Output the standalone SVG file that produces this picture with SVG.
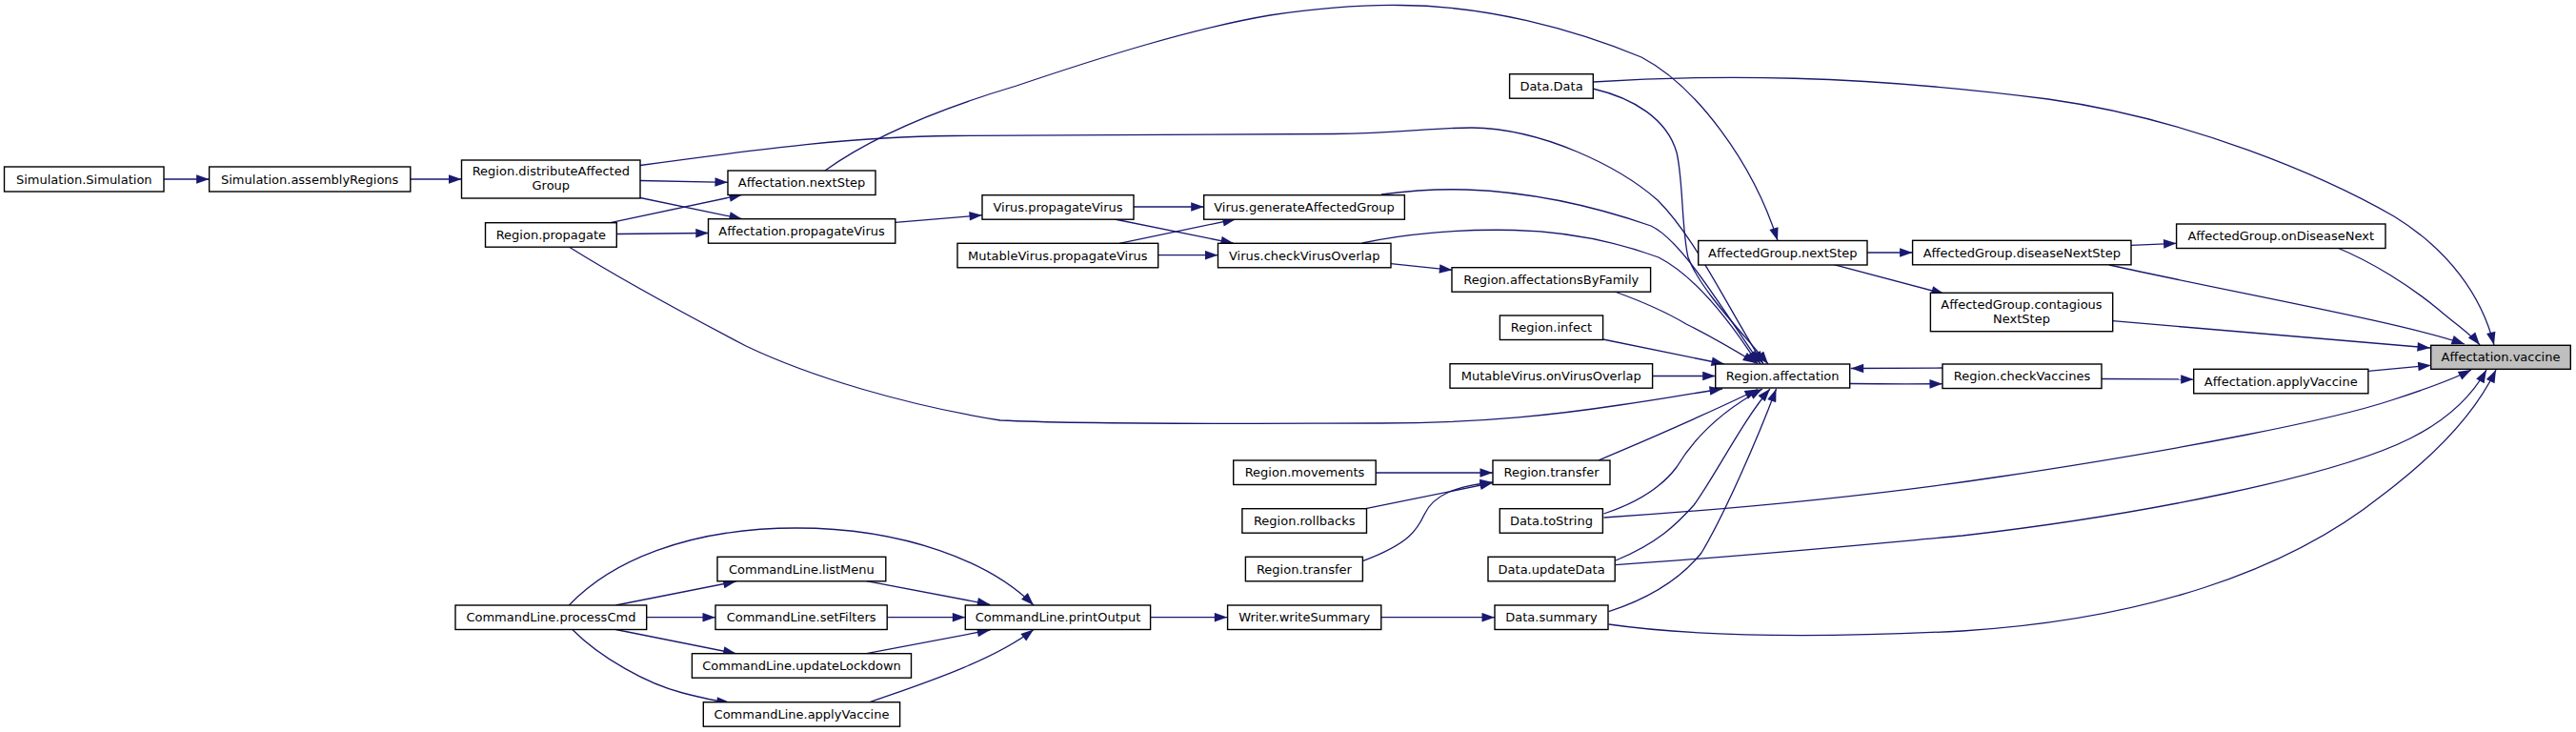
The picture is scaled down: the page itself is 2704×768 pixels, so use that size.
<svg xmlns="http://www.w3.org/2000/svg" width="2704" height="768" viewBox="0 0 2704 768">
<style>
.node rect{fill:#ffffff;stroke:#000000;stroke-width:1.4}
.node rect.focus{fill:#bfbfbf}
.node text{font-family:'DejaVu Sans','Liberation Sans',sans-serif;font-size:13px;text-anchor:middle;fill:#000000}
.edge{fill:none;stroke:#191970;stroke-width:1.3;marker-end:url(#arr)}
</style>
<defs>
<marker id="arr" markerUnits="userSpaceOnUse" viewBox="-14 -5 14 10" refX="0" refY="0" markerWidth="14" markerHeight="10" orient="auto">
<polygon points="-13.5,-4.8 0,0 -13.5,4.8" fill="#191970"/>
</marker>
</defs>
<rect width="2704" height="768" fill="#ffffff"/>
<g id="connectors">
<path class="edge" d="M172,188 L219.6,188"/>
<path class="edge" d="M430.8,188 L484.5,188"/>
<path class="edge" d="M672,189.5 L764,191.3"/>
<path class="edge" d="M672,207.5 L779,229.7"/>
<path class="edge" d="M672,173.5 C800,156 900,143 1000,142.5 C1150,141.5 1300,141 1400,140.5 C1470,140 1500,134 1545,134 C1620,135 1700,175 1740,210 C1780,250 1812,320 1851,382"/>
<path class="edge" d="M640.7,233.7 L779,204.3"/>
<path class="edge" d="M647.4,245.5 L743.8,244.5"/>
<path class="edge" d="M598,259.5 C650,292 720,330 783,363 C850,395 950,425 1050,441 C1150,446 1350,444 1450,444 C1560,444 1640,434 1700,425 C1750,418 1780,412 1808,408"/>
<path class="edge" d="M866,179 C920,140 1000,110 1067,90 C1150,62 1250,30 1333,16 C1400,6 1440,5 1470,5.5 C1560,6 1650,30 1723,60 C1780,90 1840,170 1866,252.5"/>
<path class="edge" d="M939.8,233.3 L1031,225.7"/>
<path class="edge" d="M1190,217 L1263.7,217"/>
<path class="edge" d="M1170,230 L1295,255.3"/>
<path class="edge" d="M1175,255.3 L1297,230"/>
<path class="edge" d="M1215.7,267.7 L1278.5,267.7"/>
<path class="edge" d="M1450,204 C1480,200 1510,198 1540,199 C1620,202 1690,222 1733,237 C1765,252 1805,320 1848,382"/>
<path class="edge" d="M1430,255 C1470,246 1530,240 1590,241.5 C1650,243 1700,255 1741,270 C1780,290 1818,340 1845,382"/>
<path class="edge" d="M1460,276.7 L1524.4,283.3"/>
<path class="edge" d="M1695,306 C1720,315 1745,325 1770,340 C1800,355 1825,370 1843,381"/>
<path class="edge" d="M1682.6,356 L1810,382"/>
<path class="edge" d="M1734.6,394.5 L1800.7,394.5"/>
<path class="edge" d="M1672,93 C1715,103 1750,125 1760,160 C1767,190 1765,240 1772,270 C1785,305 1830,350 1856,382"/>
<path class="edge" d="M1672,86 C1800,78 1950,78 2150,104 C2300,125 2440,185 2513,227 C2570,262 2605,310 2618,362"/>
<path class="edge" d="M1960,265 L2007.6,265"/>
<path class="edge" d="M1925,277.7 L2041,308.3"/>
<path class="edge" d="M2237,257.3 L2284.6,255.3"/>
<path class="edge" d="M2214,278 C2350,308 2520,338 2587,361"/>
<path class="edge" d="M2453.6,260 C2490,275 2530,300 2560,325 C2580,342 2595,352 2603,362"/>
<path class="edge" d="M2217.7,336.7 L2551,365"/>
<path class="edge" d="M1941.7,402.5 C1980,403 2010,403 2039,402.7"/>
<path class="edge" d="M2039,386 L1942.7,386.5"/>
<path class="edge" d="M2205.8,397.5 L2302.7,398"/>
<path class="edge" d="M2485.9,389.3 L2551.7,383.3"/>
<path class="edge" d="M1444.2,496 L1567,496"/>
<path class="edge" d="M1433.5,533.7 L1567,506.5"/>
<path class="edge" d="M1431,588.3 C1480,570 1488,555 1495,540 C1505,518 1530,510 1567,506"/>
<path class="edge" d="M1678,483 C1720,465 1780,440 1845,408.5"/>
<path class="edge" d="M1683.5,539 C1720,527 1745,510 1760,490 C1775,465 1800,435 1850,408"/>
<path class="edge" d="M1683.5,543 C1850,532 2000,515 2100,500 C2300,470 2450,440 2510,420 C2550,407 2575,398 2594,388"/>
<path class="edge" d="M1696,588 C1740,570 1760,550 1778,530 C1800,500 1830,440 1858,408"/>
<path class="edge" d="M1696,592.7 C1850,582 1950,572 2060,562 C2250,540 2450,500 2530,460 C2570,440 2595,415 2610,388"/>
<path class="edge" d="M1688.6,641.7 C1740,625 1770,600 1786,580 C1810,540 1845,460 1864.5,408"/>
<path class="edge" d="M1688.6,655 C1780,668 1900,670 2060,662 C2250,650 2400,600 2500,520 C2560,475 2600,430 2620,388"/>
<path class="edge" d="M1449.8,647.7 L1569,647.7"/>
<path class="edge" d="M1207.6,647.7 L1288.3,647.7"/>
<path class="edge" d="M909.5,609.7 L1039.3,634.3"/>
<path class="edge" d="M931.2,647.7 L1013.3,647.7"/>
<path class="edge" d="M909.5,685.7 L1039.3,661"/>
<path class="edge" d="M913,736.7 C960,720 1040,695 1085,660.5"/>
<path class="edge" d="M646.4,635 L772.7,610"/>
<path class="edge" d="M678.7,647.7 L751,647.7"/>
<path class="edge" d="M646.4,660.5 L772.7,685.7"/>
<path class="edge" d="M600.8,660.5 C630,690 680,718 716.6,727 C740,733 752,736 766,737"/>
<path class="edge" d="M597.3,635 C640,590 720,554 836,554 C950,554 1040,590 1085,635"/>
</g>
<g id="n_simulation_simulation" class="node"><rect x="4.5" y="175" width="167.5" height="26"/><text x="88.3" y="192.5">Simulation.Simulation</text></g>
<g id="n_simulation_assemblyregions" class="node"><rect x="219.6" y="175" width="211.2" height="26"/><text x="325.2" y="192.5">Simulation.assemblyRegions</text></g>
<g id="n_region_distributeaffectedgroup" class="node"><rect x="484.5" y="168" width="187.5" height="40"/><text x="578.3" y="184">Region.distributeAffected</text><text x="578.3" y="198.5">Group</text></g>
<g id="n_region_propagate" class="node"><rect x="509.5" y="233.7" width="137.8" height="25.5"/><text x="578.4" y="251">Region.propagate</text></g>
<g id="n_affectation_nextstep" class="node"><rect x="764" y="179" width="155" height="25.5"/><text x="841.5" y="196.3">Affectation.nextStep</text></g>
<g id="n_affectation_propagatevirus" class="node"><rect x="743.5" y="229.7" width="196.3" height="25.5"/><text x="841.6" y="247">Affectation.propagateVirus</text></g>
<g id="n_virus_propagatevirus" class="node"><rect x="1031" y="204.7" width="159" height="25.5"/><text x="1110.5" y="222">Virus.propagateVirus</text></g>
<g id="n_mutablevirus_propagatevirus" class="node"><rect x="1005" y="255.3" width="210.7" height="25.5"/><text x="1110.3" y="272.6">MutableVirus.propagateVirus</text></g>
<g id="n_virus_generateaffectedgroup" class="node"><rect x="1263.7" y="204.7" width="210.7" height="25.5"/><text x="1369" y="222">Virus.generateAffectedGroup</text></g>
<g id="n_virus_checkvirusoverlap" class="node"><rect x="1278.5" y="255.3" width="181.5" height="25.5"/><text x="1369.2" y="272.6">Virus.checkVirusOverlap</text></g>
<g id="n_data_data" class="node"><rect x="1584.6" y="77.7" width="87.7" height="25.5"/><text x="1628.5" y="95">Data.Data</text></g>
<g id="n_region_affectationsbyfamily" class="node"><rect x="1524" y="280.7" width="208.6" height="25.5"/><text x="1628.3" y="298">Region.affectationsByFamily</text></g>
<g id="n_region_infect" class="node"><rect x="1574.4" y="331" width="108.2" height="25.5"/><text x="1628.5" y="348.3">Region.infect</text></g>
<g id="n_mutablevirus_onvirusoverlap" class="node"><rect x="1522" y="381.7" width="212.6" height="25.5"/><text x="1628.3" y="399">MutableVirus.onVirusOverlap</text></g>
<g id="n_region_movements" class="node"><rect x="1294.7" y="483" width="149.5" height="25.5"/><text x="1369.5" y="500.3">Region.movements</text></g>
<g id="n_region_rollbacks" class="node"><rect x="1303.9" y="533.7" width="130.6" height="25.5"/><text x="1369.2" y="551">Region.rollbacks</text></g>
<g id="n_region_transfer_l" class="node"><rect x="1307.4" y="584.3" width="123" height="25.5"/><text x="1368.9" y="601.6">Region.transfer</text></g>
<g id="n_region_transfer" class="node"><rect x="1567" y="483" width="123" height="25.5"/><text x="1628.5" y="500.3">Region.transfer</text></g>
<g id="n_data_tostring" class="node"><rect x="1574.3" y="533.7" width="108.1" height="25.5"/><text x="1628.4" y="551">Data.toString</text></g>
<g id="n_data_updatedata" class="node"><rect x="1562" y="584.3" width="133.2" height="25.5"/><text x="1628.6" y="601.6">Data.updateData</text></g>
<g id="n_data_summary" class="node"><rect x="1569" y="635" width="119" height="25.5"/><text x="1628.5" y="652.3">Data.summary</text></g>
<g id="n_writer_writesummary" class="node"><rect x="1288.6" y="635" width="161.2" height="25.5"/><text x="1369.2" y="652.3">Writer.writeSummary</text></g>
<g id="n_commandline_printoutput" class="node"><rect x="1013.3" y="635" width="194.3" height="25.5"/><text x="1110.5" y="652.3">CommandLine.printOutput</text></g>
<g id="n_commandline_listmenu" class="node"><rect x="753" y="584.3" width="176.8" height="25.5"/><text x="841.4" y="601.6">CommandLine.listMenu</text></g>
<g id="n_commandline_setfilters" class="node"><rect x="751" y="635" width="180.2" height="25.5"/><text x="841.1" y="652.3">CommandLine.setFilters</text></g>
<g id="n_commandline_updatelockdown" class="node"><rect x="726.4" y="685.7" width="230.1" height="25.5"/><text x="841.5" y="703">CommandLine.updateLockdown</text></g>
<g id="n_commandline_applyvaccine" class="node"><rect x="738.3" y="736.7" width="206.3" height="25.5"/><text x="841.5" y="754">CommandLine.applyVaccine</text></g>
<g id="n_commandline_processcmd" class="node"><rect x="478" y="635" width="200.7" height="25.5"/><text x="578.4" y="652.3">CommandLine.processCmd</text></g>
<g id="n_region_affectation" class="node"><rect x="1800.7" y="382" width="141" height="25"/><text x="1871.2" y="399">Region.affectation</text></g>
<g id="n_affectedgroup_nextstep" class="node"><rect x="1782.7" y="252.5" width="177.3" height="25.5"/><text x="1871.3" y="269.8">AffectedGroup.nextStep</text></g>
<g id="n_affectedgroup_diseasenextstep" class="node"><rect x="2007.6" y="252.3" width="229.4" height="25.5"/><text x="2122.3" y="269.6">AffectedGroup.diseaseNextStep</text></g>
<g id="n_affectedgroup_contagiousnextstep" class="node"><rect x="2026.4" y="307.3" width="191.3" height="40.4"/><text x="2122" y="324">AffectedGroup.contagious</text><text x="2122" y="338.5">NextStep</text></g>
<g id="n_region_checkvaccines" class="node"><rect x="2039" y="382" width="167" height="25.5"/><text x="2122.5" y="399.3">Region.checkVaccines</text></g>
<g id="n_affectedgroup_ondiseasenext" class="node"><rect x="2284.6" y="235" width="219.4" height="25.5"/><text x="2394.3" y="252.3">AffectedGroup.onDiseaseNext</text></g>
<g id="n_affectation_applyvaccine" class="node"><rect x="2302.7" y="387.3" width="183.2" height="25.5"/><text x="2394.3" y="404.6">Affectation.applyVaccine</text></g>
<g id="n_affectation_vaccine" class="node"><rect class="focus" x="2551.7" y="362.3" width="146.6" height="25"/><text x="2625" y="379">Affectation.vaccine</text></g>
</svg>
